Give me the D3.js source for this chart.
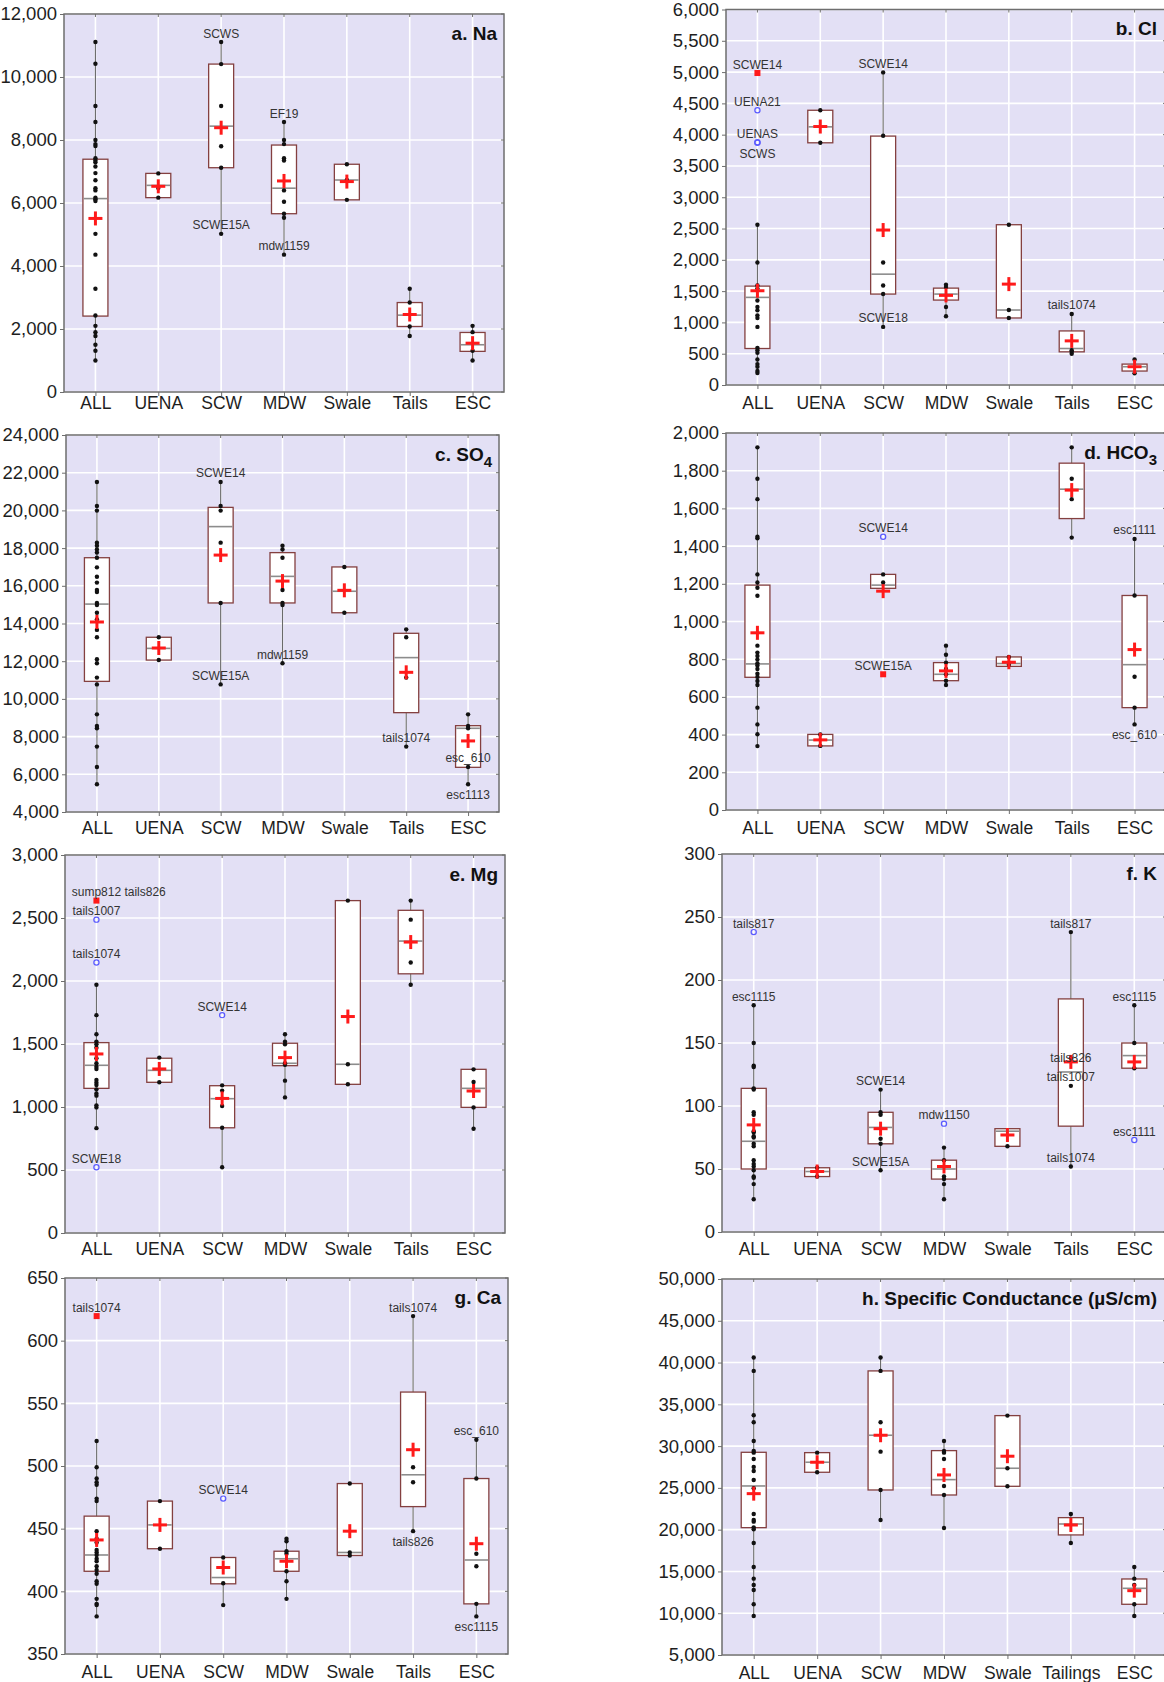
<!DOCTYPE html>
<html>
<head>
<meta charset="utf-8">
<script src="https://cdn.jsdelivr.net/npm/d3@7"></script>
<style>
  body { margin: 0; background: #ffffff; }
  svg { display: block; font-family: "Liberation Sans", Arial, Helvetica, sans-serif; }
</style>
</head>
<body>
<svg id="fig" width="1164" height="1682"></svg>
<script>
// ---- groups ----
const groups = ["ALL", "UENA", "SCW", "MDW", "Swale", "Tails", "ESC"];
const groupsSC = ["ALL", "UENA", "SCW", "MDW", "Swale", "Tailings", "ESC"];

// ---- a. Na ----
const naQ1 = [2410, 6170, 7120, 5660, 6100, 2080, 1290];
const naMedian = [6140, 6560, 8440, 6470, 6730, 2440, 1500];
const naQ3 = [7390, 6940, 10410, 7840, 7230, 2840, 1890];
const naMean = [5510, 6530, 8390, 6700, 6680, 2460, 1550];
const naPoints = [
  [11110, 10420, 9080, 8570, 8000, 7870, 7810, 7420, 7350, 7290, 7160, 6950, 6720, 6470, 6400, 6170, 6120, 6060, 5020, 4360, 3280, 2430, 2100, 1900, 1780, 1500, 1310, 1000],
  [6940, 6480, 6170],
  [11110, 10410, 9080, 7800, 7120, 5020],
  [8570, 8000, 7870, 7420, 7350, 6400, 6040, 5660, 5530, 4360],
  [7230, 6730, 6100],
  [3280, 2840, 2080, 1780],
  [2100, 1900, 1310, 1000]
];
const naOutliers = [];
const naExtremes = [];
const naLabels = [[2, 11110, "SCWS", "above"], [2, 5020, "SCWE15A", "above"], [3, 8570, "EF19", "above"], [3, 4360, "mdw1159", "above"]];

// ---- b. Cl ----
const clQ1 = [583, 3870, 1453, 1357, 1071, 530, 223];
const clMedian = [1400, 4125, 1771, 1453, 1198, 583, 292];
const clQ3 = [1580, 4390, 3977, 1548, 2561, 864, 334];
const clMean = [1506, 4130, 2476, 1432, 1612, 705, 292];
const clPoints = [
  [2560, 1957, 1590, 1540, 1350, 1246, 1193, 1113, 1071, 928, 594, 557, 514, 408, 334, 292, 223, 191],
  [4390, 3870],
  [4995, 3982, 1957, 1590, 1453, 928],
  [1601, 1564, 1246, 1098],
  [2561, 1198, 1071],
  [1135, 557, 530, 498],
  [408, 186]
];
const clOutliers = [[0, 4390], [0, 3880], [0, 3870]];
const clExtremes = [[0, 4985]];
const clLabels = [[0, 4985, "SCWE14", "above"], [0, 4390, "UENA21", "above"], [0, 3880, "UENAS", "above"], [0, 3870, "SCWS", "below"],
  [2, 4995, "SCWE14", "above"], [2, 928, "SCWE18", "above"], [5, 1135, "tails1074", "above"]];

// ---- c. SO4 ----
const so4Q1 = [10930, 12060, 15090, 15090, 14570, 9270, 6370];
const so4Median = [15030, 12680, 19140, 16500, 15710, 12190, 8440];
const so4Q3 = [17490, 13270, 20160, 17760, 17000, 13480, 8580];
const so4Mean = [14080, 12700, 17630, 16250, 15760, 11410, 7770];
const so4Points = [
  [21510, 20230, 19990, 18290, 18130, 17930, 17760, 17490, 16980, 16480, 16170, 15780, 15670, 15090, 14980, 14570, 14220, 13660, 13270, 12100, 11890, 11130, 10770, 9180, 8560, 8440, 7470, 6390, 5470],
  [13270, 12060],
  [21510, 20230, 19990, 18290, 15090, 10770],
  [18130, 17930, 17490, 15780, 15090, 14980, 11890],
  [17000, 14570],
  [13690, 13270, 11130, 7470],
  [9180, 8560, 8440, 6390, 5470]
];
const so4Outliers = [];
const so4Extremes = [];
const so4Labels = [[2, 21510, "SCWE14", "above"], [2, 10770, "SCWE15A", "above"], [3, 11890, "mdw1159", "above"],
  [5, 7470, "tails1074", "above"], [6, 6390, "esc_610", "above"], [6, 5470, "esc1113", "below"]];

// ---- d. HCO3 ----
const hco3Q1 = [704, 340, 1176, 686, 762, 1546, 543];
const hco3Median = [775, 371, 1193, 720, 777, 1702, 771];
const hco3Q3 = [1193, 401, 1250, 782, 812, 1840, 1138];
const hco3Mean = [940, 372, 1161, 738, 784, 1697, 851];
const hco3Points = [
  [1924, 1757, 1649, 1450, 1441, 1250, 1207, 1179, 1137, 872, 835, 817, 798, 778, 766, 748, 723, 706, 684, 663, 543, 454, 402, 339],
  [401, 340],
  [1250, 1207],
  [872, 824, 782, 748, 720, 686, 663],
  [812, 770],
  [1924, 1757, 1649, 1445],
  [1438, 1138, 707, 543, 454]
];
const hco3Outliers = [[2, 1450]];
const hco3Extremes = [[2, 720]];
const hco3Labels = [[2, 1450, "SCWE14", "above"], [2, 720, "SCWE15A", "above"], [6, 1438, "esc1111", "above"], [6, 454, "esc_610", "below"]];

// ---- e. Mg ----
const mgQ1 = [1148, 1196, 835, 1328, 1180, 2057, 997];
const mgMedian = [1331, 1291, 1066, 1347, 1339, 2317, 1148];
const mgQ3 = [1511, 1387, 1169, 1506, 2638, 2561, 1299];
const mgMean = [1421, 1302, 1068, 1392, 1718, 2309, 1127];
const mgPoints = [
  [1970, 1729, 1577, 1519, 1498, 1471, 1387, 1347, 1320, 1302, 1214, 1193, 1174, 1140, 1108, 1090, 1013, 997, 832],
  [1392, 1196],
  [1172, 1130, 1008, 835, 522],
  [1577, 1519, 1498, 1347, 1335, 1209, 1076],
  [2638, 1339, 1180],
  [2638, 2487, 2147, 1970],
  [1299, 1198, 997, 827]
];
const mgOutliers = [[0, 2487], [0, 2147], [0, 522], [2, 1729]];
const mgExtremes = [[0, 2638]];
const mgLabels = [[0, 2638, "sump812 tails826", "above"], [0, 2487, "tails1007", "above"], [0, 2147, "tails1074", "above"],
  [0, 522, "SCWE18", "above"], [2, 1729, "SCWE14", "above"]];

// ---- f. K ----
const kQ1 = [50, 44, 70, 42, 68, 84, 130];
const kMedian = [72, 48, 83, 50, 80, 127, 140];
const kQ3 = [114, 51, 95, 57, 82, 185, 150];
const kMean = [85, 48, 82, 52, 77, 135, 135];
const kPoints = [
  [180, 150, 132, 131, 114, 113, 95, 93, 80, 79, 76, 75, 70, 68, 57, 54, 52, 49, 44, 43, 38, 26],
  [51, 44],
  [113, 95, 93, 74, 70, 49],
  [67, 57, 44, 42, 38, 26],
  [68],
  [238, 138, 116, 52],
  [180, 150, 130]
];
const kOutliers = [[0, 238], [3, 86], [6, 73]];
const kExtremes = [];
const kLabels = [[0, 238, "tails817", "above"], [0, 180, "esc1115", "above"], [2, 113, "SCWE14", "above"], [2, 49, "SCWE15A", "above"],
  [3, 86, "mdw1150", "above"], [5, 238, "tails817", "above"], [5, 138, "tails826", "on"], [5, 116, "tails1007", "above"],
  [5, 52, "tails1074", "above"], [6, 180, "esc1115", "above"], [6, 73, "esc1111", "above"]];

// ---- g. Ca ----
const caQ1 = [416, 434, 406, 416, 428.6, 467.6, 390];
const caMedian = [429, 453, 411, 426, 431, 493, 425];
const caQ3 = [460, 472, 427, 432, 486, 559, 490];
const caMean = [441, 453, 419, 424, 448, 513, 438];
const caPoints = [
  [520, 499, 490, 487, 485, 474, 472, 448, 442, 439, 433, 431, 429, 426, 424, 420, 417, 414, 408, 406, 394, 390, 389, 380],
  [472, 434],
  [427, 406.5, 389],
  [442, 440, 432, 430, 416, 408, 394],
  [486, 431, 428.6],
  [619.6, 499, 487, 448],
  [521, 490, 430, 420, 390, 380]
];
const caOutliers = [[2, 474]];
const caExtremes = [[0, 619.6]];
const caLabels = [[0, 619.6, "tails1074", "above"], [2, 474, "SCWE14", "above"], [5, 619.6, "tails1074", "above"],
  [5, 448, "tails826", "below"], [6, 521, "esc_610", "above"], [6, 380, "esc1115", "below"]];

// ---- h. Specific conductance ----
const scQ1 = [20240, 26870, 24750, 24150, 25190, 19370, 11070];
const scMedian = [25230, 28070, 31300, 25990, 27350, 20680, 12980];
const scQ3 = [29260, 29220, 39000, 29460, 33650, 21440, 14100];
const scMean = [24310, 28070, 31300, 26550, 28790, 20560, 12700];
const scPoints = [
  [40600, 39000, 33690, 32850, 30620, 29420, 29220, 28460, 27510, 27030, 25950, 24950, 21880, 21160, 20960, 20280, 20040, 18410, 15530, 14140, 13380, 12780, 11070, 9670],
  [29220, 26870],
  [40600, 39000, 32850, 29340, 24750, 21160],
  [30620, 29420, 29220, 28460, 25230, 24150, 20200],
  [33650, 27350, 25190],
  [21880, 18410],
  [15530, 14140, 13380, 11070, 9670]
];
const scOutliers = [];
const scExtremes = [];
const scLabels = [];

// ---- panel layout ----
const panels = [
  { title: [["a. Na"]], cats: groups, domain: [0, 12000], step: 2000, q1: naQ1, med: naMedian, q3: naQ3, mean: naMean, pts: naPoints, out: naOutliers, ext: naExtremes, lab: naLabels, frame: { l: 64, r: 504, t: 14, b: 392 }, catY: 409 },
  { title: [["b. Cl"]], cats: groups, domain: [0, 6000], step: 500, q1: clQ1, med: clMedian, q3: clQ3, mean: clMean, pts: clPoints, out: clOutliers, ext: clExtremes, lab: clLabels, frame: { l: 726, r: 1166, t: 9.5, b: 385 }, catY: 409 },
  { title: [["c. SO"], ["4", true]], cats: groups, domain: [4000, 24000], step: 2000, q1: so4Q1, med: so4Median, q3: so4Q3, mean: so4Mean, pts: so4Points, out: so4Outliers, ext: so4Extremes, lab: so4Labels, frame: { l: 66, r: 499, t: 435, b: 812 }, catY: 834 },
  { title: [["d. HCO"], ["3", true]], cats: groups, domain: [0, 2000], step: 200, q1: hco3Q1, med: hco3Median, q3: hco3Q3, mean: hco3Mean, pts: hco3Points, out: hco3Outliers, ext: hco3Extremes, lab: hco3Labels, frame: { l: 726, r: 1166, t: 433, b: 810 }, catY: 834 },
  { title: [["e. Mg"]], cats: groups, domain: [0, 3000], step: 500, q1: mgQ1, med: mgMedian, q3: mgQ3, mean: mgMean, pts: mgPoints, out: mgOutliers, ext: mgExtremes, lab: mgLabels, frame: { l: 65, r: 505, t: 855, b: 1233 }, catY: 1255 },
  { title: [["f. K"]], cats: groups, domain: [0, 300], step: 50, q1: kQ1, med: kMedian, q3: kQ3, mean: kMean, pts: kPoints, out: kOutliers, ext: kExtremes, lab: kLabels, frame: { l: 722, r: 1166, t: 854, b: 1232 }, catY: 1255 },
  { title: [["g. Ca"]], cats: groups, domain: [350, 650], step: 50, q1: caQ1, med: caMedian, q3: caQ3, mean: caMean, pts: caPoints, out: caOutliers, ext: caExtremes, lab: caLabels, frame: { l: 65, r: 508, t: 1278, b: 1654 }, catY: 1678 },
  { title: [["h. Specific Conductance (µS/cm)"]], cats: groupsSC, domain: [5000, 50000], step: 5000, q1: scQ1, med: scMedian, q3: scQ3, mean: scMean, pts: scPoints, out: scOutliers, ext: scExtremes, lab: scLabels, frame: { l: 722, r: 1166, t: 1279, b: 1655 }, catY: 1679 }
];

const C = {
  bg: "#e3e0f5",
  grid: "#ffffff",
  frame: "#6e6e6e",
  boxStroke: "#844040",
  median: "#8c8c8c",
  whisker: "#6a6a6a",
  dot: "#111111",
  mean: "#ff1a1a",
  outlier: "#5a5aff",
  text: "#1e1e1e",
  label: "#333333"
};

const svg = d3.select("#fig");
const fmt = d3.format(",");

panels.forEach(p => {
  const f = p.frame;
  const x = d3.scalePoint().domain(p.cats).range([f.l, f.r]).padding(0.5);
  const y = d3.scaleLinear().domain(p.domain).range([f.b, f.t]);
  const ticks = d3.range(p.domain[0], p.domain[1] + p.step / 2, p.step);
  const g = svg.append("g");

  // plot background
  g.append("rect").attr("x", f.l).attr("y", f.t).attr("width", f.r - f.l).attr("height", f.b - f.t).attr("fill", C.bg);

  // grid
  g.append("g").selectAll("line").data(ticks).join("line")
    .attr("x1", f.l).attr("x2", f.r).attr("y1", d => y(d)).attr("y2", d => y(d))
    .attr("stroke", C.grid).attr("stroke-width", 1.6);
  g.append("g").selectAll("line").data(p.cats).join("line")
    .attr("x1", d => x(d)).attr("x2", d => x(d)).attr("y1", f.t).attr("y2", f.b)
    .attr("stroke", C.grid).attr("stroke-width", 1.6);

  // axes
  const yAxis = g.append("g").attr("transform", `translate(${f.l},0)`)
    .call(d3.axisLeft(y).tickValues(ticks).tickFormat(fmt).tickSizeInner(4).tickSizeOuter(0).tickPadding(3));
  yAxis.select(".domain").remove();
  yAxis.selectAll("line").attr("stroke", C.frame);
  yAxis.selectAll("text").attr("font-size", 18.5).attr("fill", C.text).attr("font-family", "Liberation Sans, Arial, sans-serif");

  const xAxis = g.append("g").attr("transform", `translate(0,${f.b})`)
    .call(d3.axisBottom(x).tickSizeInner(4).tickSizeOuter(0).tickPadding(0));
  xAxis.select(".domain").remove();
  xAxis.selectAll("line").attr("stroke", C.frame);
  xAxis.selectAll("text").attr("font-size", 17.5).attr("fill", C.text)
    .attr("font-family", "Liberation Sans, Arial, sans-serif")
    .attr("y", p.catY - f.b).attr("dy", 0);

  // inward ticks on top and right
  g.append("g").selectAll("line").data(p.cats).join("line")
    .attr("x1", d => x(d)).attr("x2", d => x(d)).attr("y1", f.t).attr("y2", f.t + 3)
    .attr("stroke", C.frame);
  g.append("g").selectAll("line").data(ticks).join("line")
    .attr("x1", f.r - 3).attr("x2", f.r).attr("y1", d => y(d)).attr("y2", d => y(d))
    .attr("stroke", C.frame);

  // whiskers, from lowest to highest non-outlier value
  const boxW = 25;
  p.cats.forEach((c, i) => {
    const vals = p.pts[i].concat([p.q1[i], p.q3[i]]);
    const lo = d3.min(vals), hi = d3.max(vals);
    g.append("line").attr("x1", x(c)).attr("x2", x(c)).attr("y1", y(lo)).attr("y2", y(hi))
      .attr("stroke", C.whisker).attr("stroke-width", 1.1);
  });

  // boxes
  g.append("g").selectAll("rect").data(p.cats).join("rect")
    .attr("x", d => x(d) - boxW / 2).attr("width", boxW)
    .attr("y", (d, i) => y(p.q3[i])).attr("height", (d, i) => y(p.q1[i]) - y(p.q3[i]))
    .attr("fill", "#ffffff").attr("stroke", C.boxStroke).attr("stroke-width", 1.3);

  // medians
  g.append("g").selectAll("line").data(p.cats).join("line")
    .attr("x1", d => x(d) - boxW / 2 + 0.7).attr("x2", d => x(d) + boxW / 2 - 0.7)
    .attr("y1", (d, i) => y(p.med[i])).attr("y2", (d, i) => y(p.med[i]))
    .attr("stroke", C.median).attr("stroke-width", 1.6);

  // individual samples
  const flat = [];
  p.pts.forEach((arr, i) => arr.forEach(v => flat.push([i, v])));
  g.append("g").selectAll("circle").data(flat).join("circle")
    .attr("cx", d => x(p.cats[d[0]])).attr("cy", d => y(d[1])).attr("r", 2.2).attr("fill", C.dot);

  // outliers and extremes
  g.append("g").selectAll("circle").data(p.out).join("circle")
    .attr("cx", d => x(p.cats[d[0]])).attr("cy", d => y(d[1])).attr("r", 2.6)
    .attr("fill", "none").attr("stroke", C.outlier).attr("stroke-width", 1.2);
  g.append("g").selectAll("rect").data(p.ext).join("rect")
    .attr("x", d => x(p.cats[d[0]]) - 3).attr("y", d => y(d[1]) - 3).attr("width", 6).attr("height", 6)
    .attr("fill", C.mean);

  // means
  const mg = g.append("g").attr("stroke", C.mean).attr("stroke-width", 3);
  p.cats.forEach((c, i) => {
    const cx = x(c), cy = y(p.mean[i]);
    mg.append("line").attr("x1", cx - 7).attr("x2", cx + 7).attr("y1", cy).attr("y2", cy);
    mg.append("line").attr("x1", cx).attr("x2", cx).attr("y1", cy - 7).attr("y2", cy + 7);
  });

  // sample labels
  p.lab.forEach(([i, v, txt, side]) => {
    const cx = x(p.cats[i]), cy = y(v);
    const ty = side === "below" ? cy + 15 : side === "on" ? cy + 4 : cy - 4.5;
    const words = txt.split(" ");
    const t = g.append("text").attr("y", ty).attr("font-size", 12).attr("fill", C.label).text(txt);
    if (words.length > 1) {
      const w0 = t.node().getSubStringLength(0, words[0].length);
      t.attr("x", cx - w0 / 2).attr("text-anchor", "start");
    } else {
      t.attr("x", cx).attr("text-anchor", "middle");
    }
  });

  // frame
  g.append("rect").attr("x", f.l).attr("y", f.t).attr("width", f.r - f.l).attr("height", f.b - f.t)
    .attr("fill", "none").attr("stroke", C.frame).attr("stroke-width", 1.5);

  // panel title
  const title = g.append("text").attr("x", Math.min(f.r, 1164) - 7).attr("y", f.t + 25.5)
    .attr("text-anchor", "end").attr("font-size", 19).attr("font-weight", "bold").attr("fill", "#111");
  p.title.forEach(([s, sub]) => {
    if (sub) title.append("tspan").attr("font-size", 15).attr("dy", 6).text(s);
    else title.append("tspan").text(s);
  });
});
</script>
</body>
</html>
